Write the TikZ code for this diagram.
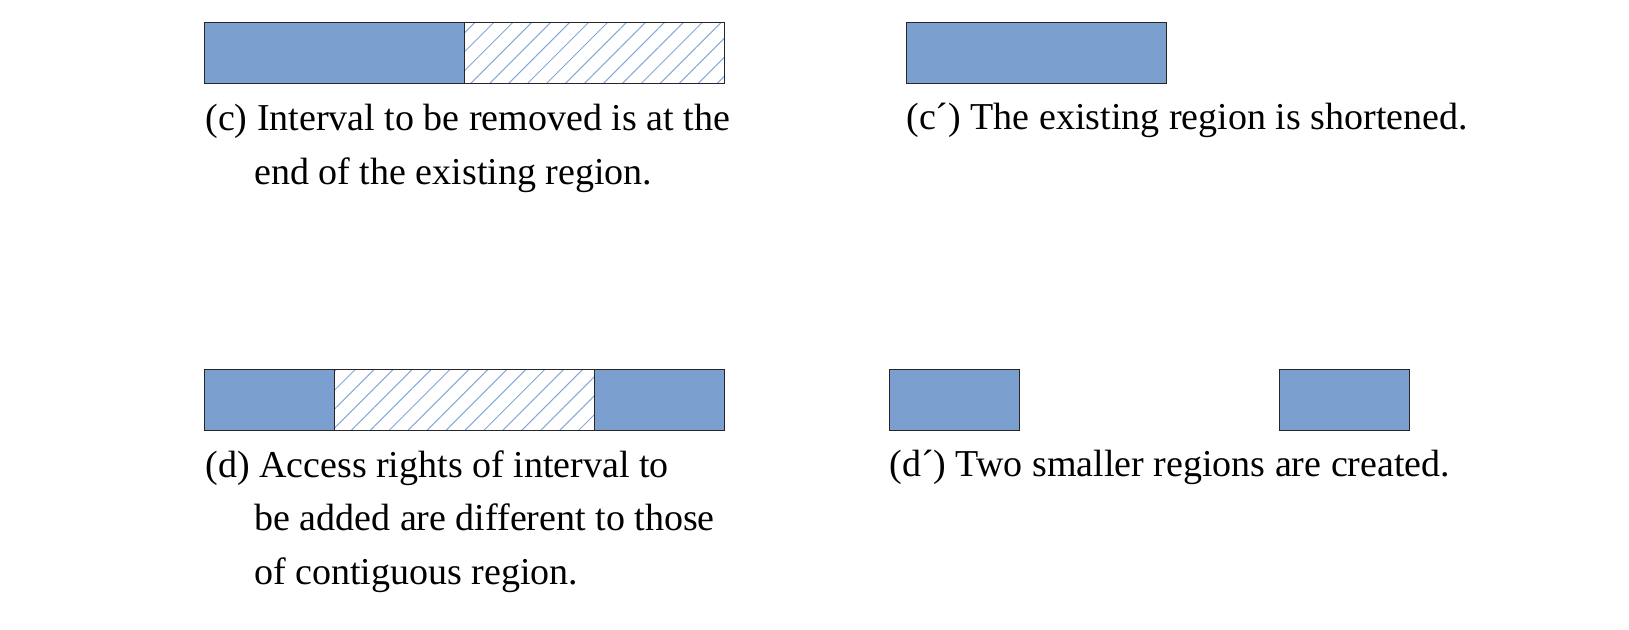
\documentclass[tikz,border=0pt]{standalone}
\usepackage{fontspec}
\setmainfont{Liberation Serif}
\usetikzlibrary{positioning,patterns.meta}
\definecolor{regionblue}{HTML}{7B9FCF}
\definecolor{hatchblue}{HTML}{85A8D8}

\begin{document}
\begin{tikzpicture}[x=0.5pt,y=-0.5pt,
    existing/.style={%
        draw=black!85,
        line width=0.5pt,
        fill=regionblue,
        inner sep=0pt,
        outer sep=0pt,
        minimum height=30.5pt
    },
    interval/.style={%
        draw=black!85,
        line width=0.5pt,
        inner sep=0pt,
        outer sep=0pt,
        minimum height=30.5pt,
        pattern={Lines[angle=45,distance=6.7pt,line width=0.5pt]},
        pattern color=hatchblue
    },
    caption/.style={%
        anchor=base west,
        inner sep=0pt,
        align=left,
        font=\fontsize{19}{27}\selectfont
    }
]
\useasboundingbox (0,0) rectangle (1629,630);

% (c) Interval removed at the end
    \node[existing, minimum width=130pt] (cRegion) at (334,53.5) {};
    \node[interval, minimum width=130pt, right=0pt of cRegion] (cInterval) {};
    \node[caption] (cText) at (205,185) {(c) Interval to be removed is at the\\\hspace*{24.5pt}end of the existing region.};

% (c') Shortened region
    \node[existing, minimum width=130pt] (cShort) at (1036,53.5) {};
    \node[caption] (cShortText) at (906,130) {(c´) The existing region is shortened.};

% (d) Interval with different access rights
    \node[existing, minimum width=65pt] (dLeft) at (269,400.5) {};
    \node[interval, minimum width=130pt, right=0pt of dLeft] (dInterval) {};
    \node[existing, minimum width=65pt, right=0pt of dInterval] (dRight) {};
    \node[caption] (dText) at (205,585) {(d) Access rights of interval to\\\hspace*{24.5pt}be added are different to those\\\hspace*{24.5pt}of contiguous region.};

% (d') Two smaller regions
    \node[existing, minimum width=65pt] (dSmall1) at (954,400.5) {};
    \node[existing, minimum width=65pt] (dSmall2) at (1344,400.5) {};
    \node[caption] (dSmallText) at (889,477) {(d´) Two smaller regions are created.};

\end{tikzpicture}
\end{document}
